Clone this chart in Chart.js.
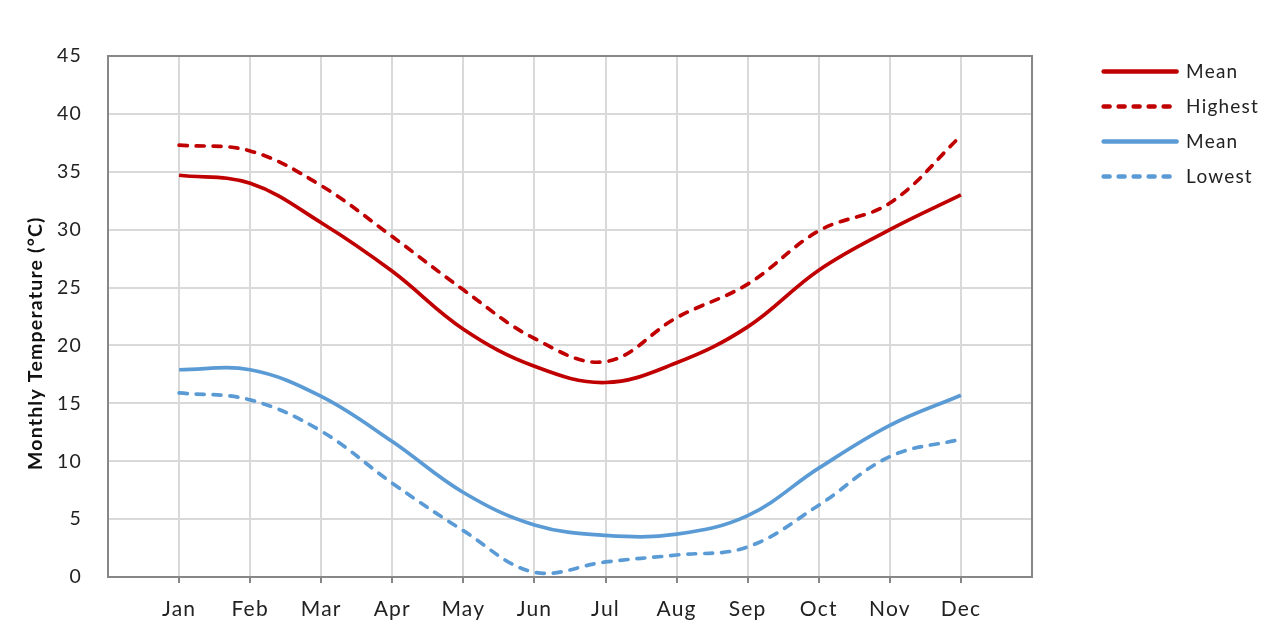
<!DOCTYPE html>
<html>
<head>
<meta charset="utf-8">
<script src="https://cdn.jsdelivr.net/npm/chart.js@4/dist/chart.umd.min.js"></script>
<style>
  html, body { margin: 0; padding: 0; background: #fff; }
  #wrap { width: 1267px; height: 628px; }
</style>
</head>
<body>
<div id="wrap"><canvas id="tempChart"></canvas></div>
<script>
// Months on the x axis
const months = ['Jan', 'Feb', 'Mar', 'Apr', 'May', 'Jun', 'Jul', 'Aug', 'Sep', 'Oct', 'Nov', 'Dec'];

// Monthly temperatures (°C)
const maxMean  = [34.7, 34.0, 30.6, 26.4, 21.4, 18.2, 16.8, 18.5, 21.6, 26.5, 30.0, 33.0];
const highest  = [37.3, 36.8, 33.8, 29.4, 24.8, 20.6, 18.6, 22.4, 25.3, 29.9, 32.3, 38.1];
const minMean  = [17.9, 17.9, 15.6, 11.7, 7.3, 4.5, 3.6, 3.7, 5.3, 9.4, 13.1, 15.7];
const lowest   = [15.9, 15.3, 12.6, 8.1, 4.0, 0.4, 1.3, 1.9, 2.6, 6.2, 10.4, 11.9];

const yTicks = { min: 0, max: 45, step: 5 };

const red = '#C00000';
const blue = '#5B9BD5';
const gridColor = '#D9D9D9';
const axisColor = '#878787';
const font = 'Lato';
const padRight = -2;

function points(values) {
    return values.map((v, i) => ({ x: i + 1, y: v }));
}

function lineSet(label, values, color, dashed) {
    return {
        label: label,
        data: points(values),
        borderColor: color,
        backgroundColor: color,
        borderWidth: 3.7,
        borderDash: dashed ? [8, 9] : [],
        borderCapStyle: dashed ? 'round' : 'butt',
        pointRadius: 0,
        tension: 0.38,
        fill: false
    };
}

// the original text is a little spaced out
const spacing = {
    id: 'spacing',
    beforeLayout(chart) { chart.ctx.letterSpacing = '1.2px'; },
    beforeDraw(chart) { chart.ctx.letterSpacing = '1.2px'; }
};

const isMonth = c => c.tick && c.tick.value > 0 && c.tick.value <= months.length;

new Chart(document.getElementById('tempChart').getContext('2d'), {
    type: 'line',
    data: {
        datasets: [
            lineSet('Mean', maxMean, red, false),
            lineSet('Highest', highest, red, true),
            lineSet('Mean', minMean, blue, false),
            lineSet('Lowest', lowest, blue, true)
        ]
    },
    plugins: [spacing],
    options: {
        responsive: true,
        maintainAspectRatio: false,
        animation: false,
        layout: { padding: { top: 46, right: padRight, bottom: 0, left: 0 } },
        plugins: {
            tooltip: { enabled: false },
            legend: {
                position: 'right',
                align: 'start',
                labels: {
                    usePointStyle: true,
                    pointStyle: 'line',
                    pointStyleWidth: 73,
                    padding: 16,
                    color: '#222',
                    font: { family: font, size: 19 },
                    generateLabels: chart => Chart.defaults.plugins.legend.labels.generateLabels(chart).map(item => {
                        const ds = chart.data.datasets[item.datasetIndex];
                        item.strokeStyle = ds.borderColor;
                        item.lineWidth = 4.5;
                        item.lineDash = ds.borderDash.length ? [6, 9] : [];
                        item.lineCap = 'round';
                        return item;
                    })
                }
            }
        },
        scales: {
            x: {
                type: 'linear',
                min: 0,
                max: months.length + 1,
                afterFit: s => { s.height = 51; },
                ticks: {
                    stepSize: 1,
                    autoSkip: false,
                    padding: 14,
                    color: '#222',
                    font: { family: font, size: 21 },
                    callback: v => months[v - 1] || ''
                },
                grid: {
                    color: c => isMonth(c) ? gridColor : 'transparent',
                    tickColor: c => isMonth(c) ? axisColor : 'transparent',
                    tickLength: 6,
                    lineWidth: 2
                },
                border: { color: axisColor, width: 2 }
            },
            xTop: {
                type: 'linear',
                position: 'top',
                afterFit: s => { s.height = 10; },
                ticks: { display: false },
                grid: { drawOnChartArea: false, drawTicks: false },
                border: { color: axisColor, width: 2 }
            },
            y: {
                min: yTicks.min,
                max: yTicks.max,
                afterFit: s => { s.width = 108; },
                ticks: {
                    stepSize: yTicks.step,
                    padding: 26,
                    color: '#222',
                    font: { family: font, size: 19.5 }
                },
                grid: { color: gridColor, lineWidth: 2, drawTicks: false },
                border: { color: axisColor, width: 2 },
                title: {
                    display: true,
                    // trailing spaces push the title down a little, as in the original
                    text: 'Monthly Temperature (°C)         ',
                    color: '#111',
                    padding: { top: 24, bottom: 0 },
                    font: { family: font, size: 19.5, weight: 'bold' }
                }
            },
            yRight: {
                type: 'linear',
                position: 'right',
                afterFit: s => { s.width = 1267 - padRight - 1032 - s.chart.legend.width; },
                ticks: { display: false },
                grid: { drawOnChartArea: false, drawTicks: false },
                border: { color: axisColor, width: 2 }
            }
        }
    }
});
</script>
</body>
</html>
